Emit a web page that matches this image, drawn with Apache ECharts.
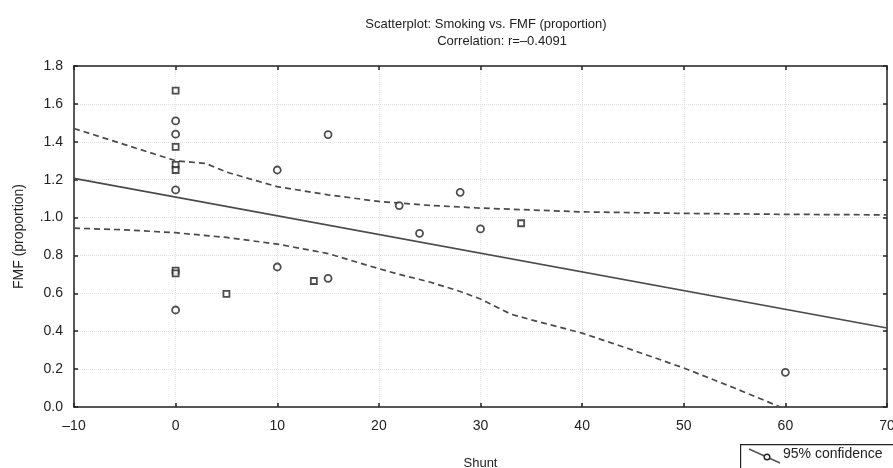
<!DOCTYPE html>
<html>
<head>
<meta charset="utf-8">
<script src="https://cdn.jsdelivr.net/npm/echarts@6/dist/echarts.min.js"></script>
<style>
html,body{margin:0;padding:0;background:#fff;}
#chart{width:893px;height:468px;}
</style>
</head>
<body>
<div id="chart"></div>
<script>
// ---- data ----
var titleLine1 = 'Scatterplot: Smoking vs. FMF (proportion)';
var titleLine2 = 'Correlation: r=\u20130.4091';
var xName = 'Shunt';
var yName = 'FMF (proportion)';
var legendLabel = '95% confidence';

var xTickValues = [-10, 0, 10, 20, 30, 40, 50, 60, 70];
var xTickLabels = ['\u201310', '0', '10', '20', '30', '40', '50', '60', '70'];
var yTickValues = [0, 0.2, 0.4, 0.6, 0.8, 1.0, 1.2, 1.4, 1.6, 1.8];
var yTickLabels = ['0.0', '0.2', '0.4', '0.6', '0.8', '.1.0', '1.2', '1.4', '1.6', '1.8'];

var squareX = [0, 0, 0, 0, 0, 0, 5, 13.6, 34];
var squareY = [1.67, 1.373, 1.278, 1.251, 0.72, 0.705, 0.597, 0.665, 0.97];

var circleX = [0, 0, 0, 0, 10, 10, 15, 15, 22, 24, 28, 30, 60];
var circleY = [1.51, 1.44, 1.146, 0.512, 1.251, 0.739, 1.438, 0.679, 1.063, 0.917, 1.133, 0.94, 0.183];

var fitX = [-10, 70];
var fitY = [1.207, 0.417];

var upperX = [-10, -5, 0, 3, 5, 10, 15, 20, 25, 30, 35, 40, 50, 60, 70];
var upperY = [1.47, 1.385, 1.30, 1.285, 1.24, 1.163, 1.12, 1.085, 1.064, 1.05, 1.04, 1.03, 1.022, 1.017, 1.014];

var lowerX = [-10, -5, 0, 5, 10, 15, 20, 22, 25, 28, 30, 33, 35, 40, 45, 50, 55, 59.5];
var lowerY = [0.944, 0.935, 0.92, 0.895, 0.86, 0.81, 0.73, 0.70, 0.66, 0.61, 0.57, 0.49, 0.46, 0.39, 0.30, 0.206, 0.10, 0.0];

function zip(a, b) { return a.map(function (v, i) { return [v, b[i]]; }); }
function labelFor(values, labels) {
  return function (v) {
    for (var i = 0; i < values.length; i++) { if (Math.abs(values[i] - v) < 1e-6) return labels[i]; }
    return '';
  };
}

var FONT = '"Liberation Sans", Arial, sans-serif';
var dark = '#222';

var chart = echarts.init(document.getElementById('chart'), null, {renderer: 'canvas'});
var option = {
  backgroundColor: '#fff',
  animation: false,
  textStyle: {fontFamily: FONT},
  title: [
    {text: titleLine1, left: 481, top: 13, textAlign: 'center',
     textStyle: {fontFamily: FONT, fontSize: 13, fontWeight: 'normal', color: dark}},
    {text: titleLine2, left: 497, top: 30, textAlign: 'center',
     textStyle: {fontFamily: FONT, fontSize: 13, fontWeight: 'normal', color: dark}}
  ],
  grid: {left: 74, right: 6, top: 66, bottom: 61, containLabel: false, outerBoundsMode: 'none'},
  xAxis: [
    {type: 'value', min: -10, max: 70, interval: 10, position: 'bottom',
     name: xName, nameLocation: 'middle', nameGap: 50,
     nameTextStyle: {fontFamily: FONT, fontSize: 13, color: dark},
     axisLine: {show: true, onZero: false, lineStyle: {color: dark, width: 1.5}},
     axisTick: {show: true, inside: true, length: 4, lineStyle: {color: dark, width: 1.5}},
     axisLabel: {fontFamily: FONT, fontSize: 14, color: dark, margin: 12,
                 formatter: labelFor(xTickValues, xTickLabels)},
     splitLine: {show: true, lineStyle: {type: 'dotted', color: '#e2e2e2', width: 1}}},
    {type: 'value', min: -10, max: 70, interval: 10, position: 'top',
     axisLine: {show: true, onZero: false, lineStyle: {color: dark, width: 1.5}},
     axisTick: {show: true, inside: true, length: 4, lineStyle: {color: dark, width: 1.5}},
     axisLabel: {show: false}, splitLine: {show: false}}
  ],
  yAxis: [
    {type: 'value', min: 0, max: 1.8, interval: 0.2, position: 'left',
     name: yName, nameLocation: 'middle', nameGap: 48, nameRotate: 90,
     nameTextStyle: {fontFamily: FONT, fontSize: 14, color: dark},
     axisLine: {show: true, onZero: false, lineStyle: {color: dark, width: 1.5}},
     axisTick: {show: true, inside: true, length: 4, lineStyle: {color: dark, width: 1.5}},
     axisLabel: {fontFamily: FONT, fontSize: 14, color: dark, margin: 11,
                 formatter: labelFor(yTickValues, yTickLabels)},
     splitLine: {show: true, lineStyle: {type: 'dotted', color: '#e2e2e2', width: 1}}},
    {type: 'value', min: 0, max: 1.8, interval: 0.2, position: 'right',
     axisLine: {show: true, onZero: false, lineStyle: {color: dark, width: 1.5}},
     axisTick: {show: true, inside: true, length: 4, lineStyle: {color: dark, width: 1.5}},
     axisLabel: {show: false}, splitLine: {show: false}}
  ],
  series: [
    {type: 'line', name: 'fit', data: zip(fitX, fitY), showSymbol: false, silent: true,
     lineStyle: {color: '#4a4a4a', width: 1.7}, z: 2},
    {type: 'line', name: legendLabel, data: zip(upperX, upperY), showSymbol: false, silent: true,
     lineStyle: {color: '#4a4a4a', width: 1.7, type: [6, 4]}, z: 2},
    {type: 'line', name: legendLabel + ' lower', data: zip(lowerX, lowerY), showSymbol: false, silent: true,
     lineStyle: {color: '#4a4a4a', width: 1.7, type: [6, 4]}, z: 2},
    {type: 'scatter', name: 'squares', data: zip(squareX, squareY), symbol: 'rect', symbolSize: 6,
     itemStyle: {color: '#fff', borderColor: dark, borderWidth: 1.8}, z: 5},
    {type: 'scatter', name: 'circles', data: zip(circleX, circleY), symbol: 'circle', symbolSize: 7,
     itemStyle: {color: '#fff', borderColor: dark, borderWidth: 1.8}, z: 5}
  ],
  graphic: [
    {type: 'rect', left: 740, top: 444, z: 10,
     shape: {x: 0, y: 0, width: 200, height: 40},
     style: {fill: '#fff', stroke: dark, lineWidth: 1.2}},
    {type: 'line', z: 11, shape: {x1: 749, y1: 449, x2: 780, y2: 463},
     style: {stroke: '#555', lineWidth: 1.5}},
    {type: 'circle', z: 12, shape: {cx: 767, cy: 457, r: 2.8},
     style: {fill: '#fff', stroke: dark, lineWidth: 1.4}},
    {type: 'text', z: 12, left: 783, top: 447,
     style: {text: legendLabel, font: '14px ' + FONT, fill: dark}}
  ]
};
chart.setOption(option);
</script>
</body>
</html>
